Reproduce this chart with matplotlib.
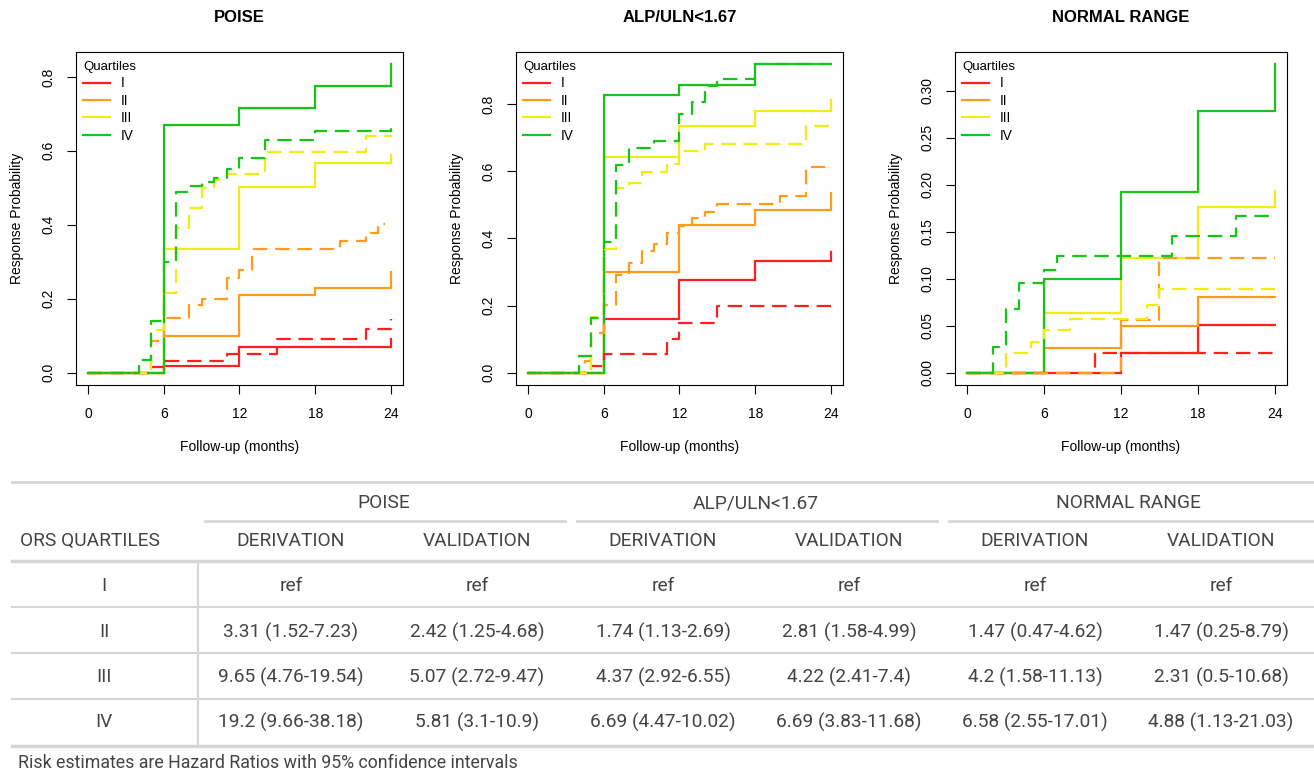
import matplotlib
matplotlib.use('Agg')
import matplotlib.pyplot as plt

W, H = 1314, 775

# ---------------- data ----------------
QUARTILES = ['I', 'II', 'III', 'IV']
COLORS = ['#ff1f1f', '#ff9c1c', '#f0ec14', '#16c616']
PANEL_TITLES = ['POISE', 'ALP/ULN<1.67', 'NORMAL RANGE']

# POISE - derivation (solid)
poise_der_t = [[0, 6, 12, 24], [0, 6, 12, 18, 24], [0, 6, 12, 18, 24], [0, 6, 12, 18, 24]]
poise_der_y = [[0, 0.018, 0.07, 0.092],
               [0, 0.10, 0.211, 0.229, 0.272],
               [0, 0.335, 0.502, 0.567, 0.589],
               [0, 0.67, 0.717, 0.776, 0.834]]
# POISE - validation (dashed)
poise_val_t = [[0, 5, 6, 11, 15, 22, 24],
               [0, 5, 6, 8, 9, 11, 12, 13, 20, 22, 23, 23.5],
               [0, 5, 6, 7, 8, 9, 10, 11, 14, 22, 24],
               [0, 4, 5, 6, 7, 8, 9, 10, 11, 12, 14, 18, 24]]
poise_val_y = [[0, 0.014, 0.032, 0.05, 0.092, 0.117, 0.144],
               [0, 0.085, 0.148, 0.184, 0.2, 0.256, 0.278, 0.335, 0.355, 0.378, 0.403, 0.403],
               [0, 0.116, 0.215, 0.391, 0.445, 0.499, 0.52, 0.537, 0.598, 0.641, 0.643],
               [0, 0.035, 0.139, 0.298, 0.488, 0.504, 0.517, 0.526, 0.55, 0.58, 0.629, 0.654, 0.663]]

# ALP/ULN<1.67 - derivation (solid)
alp_der_t = [[0, 6, 12, 18, 24], [0, 6, 12, 18, 24], [0, 6, 12, 18, 24], [0, 6, 12, 18, 24]]
alp_der_y = [[0, 0.161, 0.277, 0.332, 0.361],
             [0, 0.30, 0.44, 0.485, 0.535],
             [0, 0.643, 0.736, 0.78, 0.812],
             [0, 0.827, 0.856, 0.919, 0.919]]
# ALP/ULN<1.67 - validation (dashed)
alp_val_t = [[0, 5, 6, 11, 12, 15, 24],
             [0, 4.5, 5, 6, 7, 8, 9, 10, 11, 12, 13, 14, 15, 20, 22, 24],
             [0, 5, 6, 7, 8, 9, 11, 12, 14, 22, 24],
             [0, 4, 5, 6, 7, 8, 10, 12, 13, 14, 15, 18, 24]]
alp_val_y = [[0, 0.02, 0.055, 0.1, 0.147, 0.198, 0.21],
             [0, 0.035, 0.118, 0.203, 0.292, 0.327, 0.362, 0.383, 0.417, 0.437, 0.46, 0.48, 0.502, 0.527, 0.612, 0.612],
             [0, 0.167, 0.37, 0.549, 0.565, 0.598, 0.621, 0.66, 0.683, 0.736, 0.736],
             [0, 0.049, 0.163, 0.39, 0.618, 0.67, 0.69, 0.771, 0.806, 0.854, 0.874, 0.919, 0.919]]

# NORMAL RANGE - derivation (solid)
nr_der_t = [[0, 12, 18, 24], [0, 6, 12, 18, 24], [0, 6, 12, 18, 24], [0, 6, 12, 18, 24]]
nr_der_y = [[0, 0.021, 0.051, 0.051],
            [0, 0.0265, 0.05, 0.081, 0.081],
            [0, 0.0634, 0.1224, 0.176, 0.193],
            [0, 0.10, 0.192, 0.278, 0.328]]
# NORMAL RANGE - validation (dashed)
nr_val_t = [[0, 10, 24],
            [0, 12, 15, 24],
            [0, 3, 5, 6, 8, 14, 15, 24],
            [0, 2, 3, 4, 6, 7, 16, 21, 24]]
nr_val_y = [[0, 0.021, 0.021],
            [0, 0.056, 0.122, 0.122],
            [0, 0.021, 0.033, 0.045, 0.057, 0.072, 0.089, 0.089],
            [0, 0.027, 0.068, 0.095, 0.109, 0.1245, 0.145, 0.167, 0.167]]

X_TICKS = [0, 6, 12, 18, 24]
Y_TICKS = [[0, 0.2, 0.4, 0.6, 0.8], [0, 0.2, 0.4, 0.6, 0.8],
           [0, 0.05, 0.10, 0.15, 0.20, 0.25, 0.30]]
Y_TICKLABELS = [['0.0', '0.2', '0.4', '0.6', '0.8'], ['0.0', '0.2', '0.4', '0.6', '0.8'],
                ['0.00', '0.05', '0.10', '0.15', '0.20', '0.25', '0.30']]
Y_MAX = [0.834, 0.919, 0.328]

# table
TABLE_GROUPS = ['POISE', 'ALP/ULN<1.67', 'NORMAL RANGE']
TABLE_SUB = ['DERIVATION', 'VALIDATION']
TABLE_FIRST_HEADER = 'ORS QUARTILES'
TABLE_ROWS = ['I', 'II', 'III', 'IV']
col_poise_der = ['ref', '3.31 (1.52-7.23)', '9.65 (4.76-19.54)', '19.2 (9.66-38.18)']
col_poise_val = ['ref', '2.42 (1.25-4.68)', '5.07 (2.72-9.47)', '5.81 (3.1-10.9)']
col_alp_der = ['ref', '1.74 (1.13-2.69)', '4.37 (2.92-6.55)', '6.69 (4.47-10.02)']
col_alp_val = ['ref', '2.81 (1.58-4.99)', '4.22 (2.41-7.4)', '6.69 (3.83-11.68)']
col_nr_der = ['ref', '1.47 (0.47-4.62)', '4.2 (1.58-11.13)', '6.58 (2.55-17.01)']
col_nr_val = ['ref', '1.47 (0.25-8.79)', '2.31 (0.5-10.68)', '4.88 (1.13-21.03)']
FOOTNOTE = 'Risk estimates are Hazard Ratios with 95% confidence intervals'

# ---------------- figure ----------------
fig = plt.figure(figsize=(W / 100, H / 100), dpi=100)
RFONT = ['Liberation Sans', 'DejaVu Sans']

panels = [(poise_der_t, poise_der_y, poise_val_t, poise_val_y),
          (alp_der_t, alp_der_y, alp_val_t, alp_val_y),
          (nr_der_t, nr_der_y, nr_val_t, nr_val_y)]
ax_px = [(76, 327), (516, 327), (955, 332)]
top_px, bot_px = 52, 385
ah = bot_px - top_px

for i, (dt, dy, vt, vy) in enumerate(panels):
    left, width = ax_px[i]
    ax = fig.add_axes([left / W, 1 - bot_px / H, width / W, ah / H])
    handles = []
    for q in range(4):
        h, = ax.step(dt[q], dy[q], where='post', color=COLORS[q], lw=1.6,
                     solid_joinstyle='miter', zorder=2 + q)
        handles.append(h)
    for q in range(4):
        ax.step(vt[q], vy[q], where='post', color=COLORS[q], lw=1.6,
                linestyle=(0, (6.5, 3.5)), zorder=6 + q)
    pad = 0.04
    ax.set_xlim(-24 * pad, 24 * (1 + pad))
    ax.set_ylim(-Y_MAX[i] * pad, Y_MAX[i] * (1 + pad))
    ax.set_xticks(X_TICKS)
    ax.set_xticklabels([str(t) for t in X_TICKS], family=RFONT, fontsize=10)
    ax.set_yticks(Y_TICKS[i])
    ax.set_yticklabels(Y_TICKLABELS[i], family=RFONT, fontsize=10, rotation=90, va='center')
    ax.tick_params(axis='x', direction='out', length=6.5, width=0.8, pad=9.5)
    ax.tick_params(axis='y', direction='out', length=6.5, width=0.8, pad=8.5)
    for sp in ax.spines.values():
        sp.set_linewidth(0.8)
    ax.set_xlabel('Follow-up (months)', family=RFONT, fontsize=10)
    ax.xaxis.set_label_coords(0.5, -55 / ah)
    ax.set_ylabel('Response Probability', family=RFONT, fontsize=10)
    ax.yaxis.set_label_coords(-52 / width, 0.5)
    ax.text(0.5, 1 + 34 / ah, PANEL_TITLES[i], transform=ax.transAxes,
            ha='center', va='center', family=RFONT, fontsize=12, fontweight='bold')
    ax.legend(handles, QUARTILES, title='Quartiles', loc='upper left',
              bbox_to_anchor=(7 / width, 1 - 9 / ah),
              frameon=False, prop={'family': RFONT, 'size': 9.8},
              title_fontproperties={'family': RFONT, 'size': 9.5},
              handlelength=2.0, handletextpad=0.8, labelspacing=0.25,
              borderpad=0, borderaxespad=0, alignment='left')

# ---------------- table ----------------
tax = fig.add_axes([0, 0, 1, (H - 470) / H])
tax.set_xlim(0, W)
tax.set_ylim(H, 470)
tax.axis('off')

LC = '#d6d6d6'
TC = '#444444'
TFONT = ['Roboto', 'DejaVu Sans']
TS = 13.8
x0, x1 = 12, W
tax.plot([x0, x1], [482, 482], color=LC, lw=2.0)
for a, b in [(205, 565), (577, 937), (949, 1314)]:
    tax.plot([a, b], [521, 521], color=LC, lw=2.0)
tax.plot([x0, x1], [561, 561], color=LC, lw=2.5)
for yl in [607, 653, 699]:
    tax.plot([x0, x1], [yl, yl], color=LC, lw=1.5)
tax.plot([x0, x1], [746, 746], color=LC, lw=2.5)
tax.plot([198, 198], [561, 746], color=LC, lw=1.5)

group_centers = [384, 756, 1128]
col_centers = [291, 477, 663, 849, 1035, 1221]
for g, xc in zip(TABLE_GROUPS, group_centers):
    tax.text(xc, 503, g, ha='center', va='center', family=TFONT, fontsize=TS, color=TC)
for k, xc in enumerate(col_centers):
    tax.text(xc, 541, TABLE_SUB[k % 2], ha='center', va='center', family=TFONT,
             fontsize=TS, color=TC)
tax.text(20, 541, TABLE_FIRST_HEADER, ha='left', va='center', family=TFONT,
         fontsize=TS, color=TC)
row_y = [586, 632, 677, 722]
cols = [col_poise_der, col_poise_val, col_alp_der, col_alp_val, col_nr_der, col_nr_val]
for r, lab in enumerate(TABLE_ROWS):
    tax.text(104, row_y[r], lab, ha='center', va='center', family=TFONT, fontsize=TS, color=TC)
    for xc, col in zip(col_centers, cols):
        tax.text(xc, row_y[r], col[r], ha='center', va='center', family=TFONT,
                 fontsize=TS, color=TC)
tax.text(18, 763, FOOTNOTE, ha='left', va='center', family=TFONT, fontsize=12.8, color=TC)

fig.savefig('out.png', dpi=100)
